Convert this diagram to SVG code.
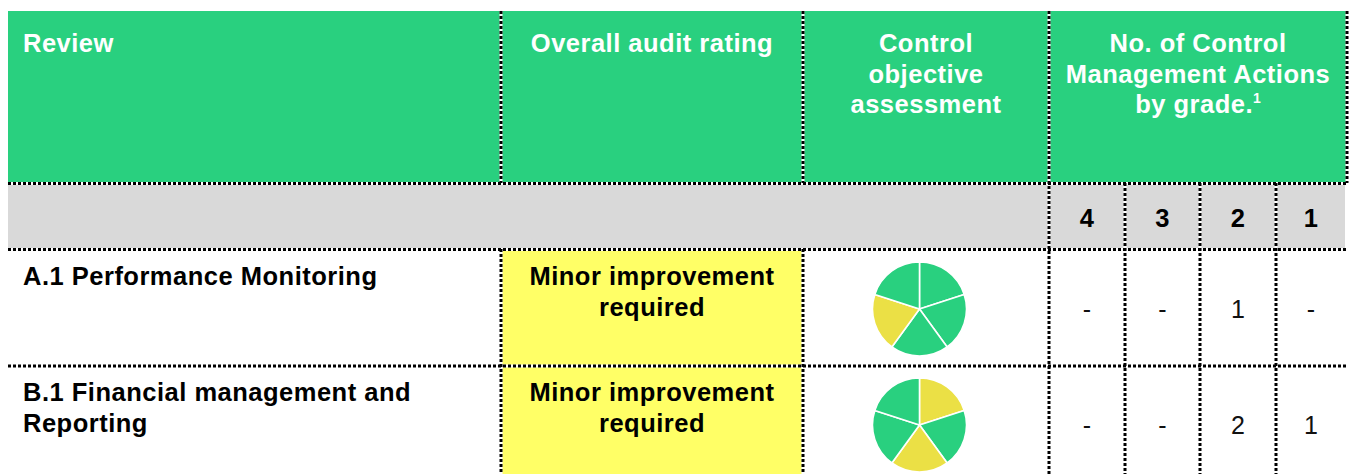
<svg xmlns="http://www.w3.org/2000/svg" width="1351" height="474" viewBox="0 0 1351 474">
<style>
text{font-family:"Liberation Sans",Arial,sans-serif;font-size:25.5px;letter-spacing:0.5px}
.h{fill:#ffffff;font-weight:bold}
.b{fill:#000000;font-weight:bold}
.n{fill:#111111;letter-spacing:0;font-size:25px}
.m{text-anchor:middle}
.green{fill:#29D07F}
.yel{fill:#EBE045}
.slice{stroke:#ffffff;stroke-width:1.6;stroke-linejoin:round}
.lw{stroke:#ffffff;stroke-width:3;fill:none}
.lk{stroke:#000000;stroke-width:3;stroke-dasharray:3 2;fill:none}
</style>
<rect x="0" y="0" width="1351" height="474" fill="#ffffff"/>
<g id="header">
<rect x="8" y="11" width="1338" height="172" fill="#29D07F"/>
<text class="h" x="23" y="52">Review</text>
<text class="h m" x="652" y="52">Overall audit rating</text>
<text class="h m" x="926" y="52">Control</text>
<text class="h m" x="926" y="82.5">objective</text>
<text class="h m" x="926" y="113">assessment</text>
<text class="h m" x="1198" y="52">No. of Control</text>
<text class="h m" x="1198" y="82.5">Management Actions</text>
<text class="h m" x="1198" y="113">by grade.<tspan font-size="14" dy="-10" letter-spacing="0">1</tspan></text>
</g>
<g id="grade-row">
<rect x="8" y="183" width="1337" height="66" fill="#D9D9D9"/>
<text class="b m" x="1087" y="227" letter-spacing="0">4</text>
<text class="b m" x="1162.5" y="227" letter-spacing="0">3</text>
<text class="b m" x="1238" y="227" letter-spacing="0">2</text>
<text class="b m" x="1311" y="227" letter-spacing="0">1</text>
</g>
<g id="row-a1">
<rect x="501" y="249" width="302" height="117" fill="#FFFF66"/>
<text class="b" x="23" y="285">A.1 Performance Monitoring</text>
<text class="b m" x="652" y="285">Minor improvement</text>
<text class="b m" x="652" y="315.5">required</text>
<g id="pie-a1">
<path class="slice green" d="M919.5,309 L919.5,262 A47,47 0 0 1 964.2,294.48 Z"/>
<path class="slice green" d="M919.5,309 L964.2,294.48 A47,47 0 0 1 947.13,347.02 Z"/>
<path class="slice green" d="M919.5,309 L947.13,347.02 A47,47 0 0 1 891.87,347.02 Z"/>
<path class="slice yel" d="M919.5,309 L891.87,347.02 A47,47 0 0 1 874.8,294.48 Z"/>
<path class="slice green" d="M919.5,309 L874.8,294.48 A47,47 0 0 1 919.5,262 Z"/>
</g>
<text class="n m" x="1087" y="318">-</text>
<text class="n m" x="1162.5" y="318">-</text>
<text class="n m" x="1238" y="318">1</text>
<text class="n m" x="1311" y="318">-</text>
</g>
<g id="row-b1">
<rect x="501" y="366" width="302" height="108" fill="#FFFF66"/>
<text class="b" x="23" y="401">B.1 Financial management and</text>
<text class="b" x="23" y="431.5">Reporting</text>
<text class="b m" x="652" y="401">Minor improvement</text>
<text class="b m" x="652" y="431.5">required</text>
<g id="pie-b1">
<path class="slice yel" d="M919.5,425 L919.5,378 A47,47 0 0 1 964.2,410.48 Z"/>
<path class="slice green" d="M919.5,425 L964.2,410.48 A47,47 0 0 1 947.13,463.02 Z"/>
<path class="slice yel" d="M919.5,425 L947.13,463.02 A47,47 0 0 1 891.87,463.02 Z"/>
<path class="slice green" d="M919.5,425 L891.87,463.02 A47,47 0 0 1 874.8,410.48 Z"/>
<path class="slice green" d="M919.5,425 L874.8,410.48 A47,47 0 0 1 919.5,378 Z"/>
</g>
<text class="n m" x="1087" y="434">-</text>
<text class="n m" x="1162.5" y="434">-</text>
<text class="n m" x="1238" y="434">2</text>
<text class="n m" x="1311" y="434">1</text>
</g>
<g id="connectors">
<g class="lw">
<path d="M8,183.5H1346M8,249.5H1346M8,366H1346"/>
<path d="M501,11V183M501,249V474M803,11V183M803,249V474M1049,11V474M1125,183V474M1200,183V474M1276,183V474M1347,11V183"/>
</g>
<g class="lk">
<path d="M8,183.5H1346M8,249.5H1346M8,366H1346"/>
<path d="M501,11V183M501,249V474M803,11V183M803,249V474M1049,11V474M1125,183V474M1200,183V474M1276,183V474M1347,11V183"/>
</g>
</g>
</svg>
